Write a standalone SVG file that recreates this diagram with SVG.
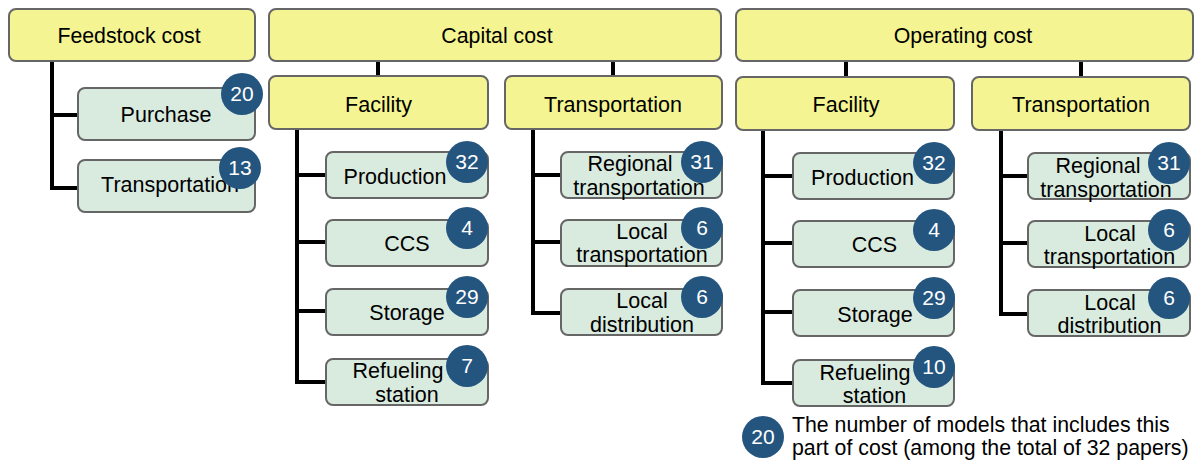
<svg xmlns="http://www.w3.org/2000/svg" width="1202" height="465" viewBox="0 0 1202 465">
<style>
.y{fill:#F4F592;stroke:#666;stroke-width:2}
.g{fill:#D9EBDF;stroke:#666;stroke-width:2}
.c{fill:#24557F}
.t{font-family:"Liberation Sans",Arial,sans-serif;font-size:21.5px;fill:#000;text-anchor:middle}
.h{font-family:"Liberation Sans",Arial,sans-serif;font-size:21.3px;fill:#000;text-anchor:middle}
.n{font-family:"Liberation Sans",Arial,sans-serif;font-size:21px;fill:#fff;text-anchor:middle}
.l{font-family:"Liberation Sans",Arial,sans-serif;font-size:21.3px;fill:#000}
.k{fill:none;stroke:#000;stroke-width:4;stroke-linejoin:miter}
</style>
<rect width="1202" height="465" fill="#fff"/>
<g id="connectors">
<polyline class="k" points="52,61 52,188 78,188"/>
<line class="k" x1="52" y1="115" x2="78" y2="115"/>
<line class="k" x1="378" y1="61" x2="378" y2="76"/>
<line class="k" x1="613" y1="61" x2="613" y2="76"/>
<polyline class="k" points="297,129 297,382 326,382"/>
<line class="k" x1="297" y1="175" x2="326" y2="175"/>
<line class="k" x1="297" y1="242" x2="326" y2="242"/>
<line class="k" x1="297" y1="311" x2="326" y2="311"/>
<polyline class="k" points="533,129 533,313 561,313"/>
<line class="k" x1="533" y1="175" x2="561" y2="175"/>
<line class="k" x1="533" y1="242" x2="561" y2="242"/>
<line class="k" x1="846" y1="61" x2="846" y2="77"/>
<line class="k" x1="1081" y1="61" x2="1081" y2="77"/>
<polyline class="k" points="763,130 763,383 793,383"/>
<line class="k" x1="763" y1="176" x2="793" y2="176"/>
<line class="k" x1="763" y1="243" x2="793" y2="243"/>
<line class="k" x1="763" y1="312" x2="793" y2="312"/>
<polyline class="k" points="1001,130 1001,314 1028,314"/>
<line class="k" x1="1001" y1="176" x2="1028" y2="176"/>
<line class="k" x1="1001" y1="243" x2="1028" y2="243"/>
</g>
<g id="feedstock">
<rect class="y" x="9" y="9" width="246" height="52" rx="7"/>
<text class="h" x="129" y="43">Feedstock cost</text>
</g>
<g id="feed-purchase">
<rect class="g" x="78" y="88" width="177" height="52" rx="7"/>
<text class="t" x="166" y="122">Purchase</text>
<circle class="c" cx="242" cy="94" r="21"/>
<text class="n" x="242" y="101">20</text>
</g>
<g id="feed-transport">
<rect class="g" x="78" y="160" width="177" height="52" rx="7"/>
<text class="t" x="170" y="192">Transportation</text>
<circle class="c" cx="240" cy="168" r="21"/>
<text class="n" x="240" y="175">13</text>
</g>
<g id="capital">
<rect class="y" x="269" y="9" width="452" height="52" rx="7"/>
<text class="h" x="497" y="43">Capital cost</text>
</g>
<g id="cap-facility">
<rect class="y" x="269" y="76" width="219" height="53" rx="7"/>
<text class="t" x="378.5" y="112">Facility</text>
</g>
<g id="cap-transport">
<rect class="y" x="505" y="76" width="217" height="53" rx="7"/>
<text class="t" x="613" y="112">Transportation</text>
</g>
<g id="cap-production">
<rect class="g" x="326" y="152" width="162" height="46" rx="7"/>
<text class="t" x="395" y="184">Production</text>
<circle class="c" cx="467" cy="162" r="21"/>
<text class="n" x="467" y="169">32</text>
</g>
<g id="cap-ccs">
<rect class="g" x="326" y="220" width="162" height="46" rx="7"/>
<text class="t" x="407" y="251">CCS</text>
<circle class="c" cx="467" cy="228" r="21"/>
<text class="n" x="467" y="235">4</text>
</g>
<g id="cap-storage">
<rect class="g" x="326" y="289" width="162" height="46" rx="7"/>
<text class="t" x="407" y="320">Storage</text>
<circle class="c" cx="467" cy="297" r="21"/>
<text class="n" x="467" y="304">29</text>
</g>
<g id="cap-refueling">
<rect class="g" x="326" y="359" width="162" height="46" rx="7"/>
<text class="t" x="398" y="378">Refueling</text>
<text class="t" x="407" y="402">station</text>
<circle class="c" cx="467" cy="366" r="21"/>
<text class="n" x="467" y="373">7</text>
</g>
<g id="cap-regional">
<rect class="g" x="561" y="152" width="161" height="46" rx="7"/>
<text class="t" x="630" y="171">Regional</text>
<text class="t" x="639" y="195">transportation</text>
<circle class="c" cx="702" cy="162" r="21"/>
<text class="n" x="702" y="169">31</text>
</g>
<g id="cap-local-transport">
<rect class="g" x="561" y="220" width="161" height="46" rx="7"/>
<text class="t" x="642" y="239">Local</text>
<text class="t" x="642" y="262">transportation</text>
<circle class="c" cx="702" cy="228" r="21"/>
<text class="n" x="702" y="235">6</text>
</g>
<g id="cap-local-dist">
<rect class="g" x="561" y="289" width="161" height="46" rx="7"/>
<text class="t" x="642" y="308">Local</text>
<text class="t" x="642" y="332">distribution</text>
<circle class="c" cx="702" cy="297" r="21"/>
<text class="n" x="702" y="304">6</text>
</g>
<g id="operating">
<rect class="y" x="736" y="9" width="457" height="52" rx="7"/>
<text class="h" x="963" y="43">Operating cost</text>
</g>
<g id="op-facility">
<rect class="y" x="736" y="77" width="218" height="53" rx="7"/>
<text class="t" x="846" y="112">Facility</text>
</g>
<g id="op-transport">
<rect class="y" x="972" y="77" width="218" height="53" rx="7"/>
<text class="t" x="1081" y="112">Transportation</text>
</g>
<g id="op-production">
<rect class="g" x="793" y="153" width="161" height="46" rx="7"/>
<text class="t" x="862.5" y="185">Production</text>
<circle class="c" cx="934" cy="163" r="21"/>
<text class="n" x="934" y="170">32</text>
</g>
<g id="op-ccs">
<rect class="g" x="793" y="221" width="161" height="46" rx="7"/>
<text class="t" x="874.5" y="252">CCS</text>
<circle class="c" cx="934" cy="230" r="21"/>
<text class="n" x="934" y="237">4</text>
</g>
<g id="op-storage">
<rect class="g" x="793" y="290" width="161" height="46" rx="7"/>
<text class="t" x="875" y="322">Storage</text>
<circle class="c" cx="934" cy="298" r="21"/>
<text class="n" x="934" y="305">29</text>
</g>
<g id="op-refueling">
<rect class="g" x="793" y="360" width="161" height="46" rx="7"/>
<text class="t" x="865" y="380">Refueling</text>
<text class="t" x="874.5" y="403">station</text>
<circle class="c" cx="934" cy="367" r="21"/>
<text class="n" x="934" y="374">10</text>
</g>
<g id="op-regional">
<rect class="g" x="1028" y="153" width="162" height="46" rx="7"/>
<text class="t" x="1098" y="173">Regional</text>
<text class="t" x="1106" y="197">transportation</text>
<circle class="c" cx="1169" cy="163" r="21"/>
<text class="n" x="1169" y="170">31</text>
</g>
<g id="op-local-transport">
<rect class="g" x="1028" y="221" width="162" height="46" rx="7"/>
<text class="t" x="1110" y="241">Local</text>
<text class="t" x="1109.5" y="264">transportation</text>
<circle class="c" cx="1169" cy="230" r="21"/>
<text class="n" x="1169" y="237">6</text>
</g>
<g id="op-local-dist">
<rect class="g" x="1028" y="290" width="162" height="46" rx="7"/>
<text class="t" x="1110" y="310">Local</text>
<text class="t" x="1109.5" y="333">distribution</text>
<circle class="c" cx="1169" cy="298" r="21"/>
<text class="n" x="1169" y="305">6</text>
</g>
<g id="legend">
<circle class="c" cx="763" cy="437" r="21"/>
<text class="n" x="763" y="444">20</text>
<text class="l" x="792" y="432">The number of models that includes this</text>
<text class="l" x="792" y="455">part of cost (among the total of 32 papers)</text>
</g>
</svg>
